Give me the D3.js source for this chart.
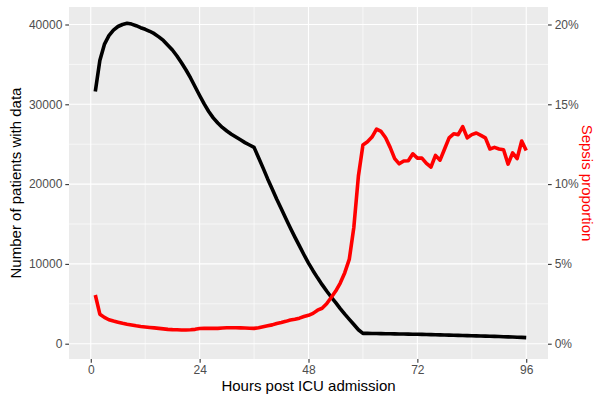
<!DOCTYPE html>
<html>
<head>
<meta charset="utf-8">
<script src="https://cdn.jsdelivr.net/npm/d3@7"></script>
<style>
  html, body { margin: 0; padding: 0; background: #fff; }
  svg { display: block; }
  text { font-family: "Liberation Sans", Arial, Helvetica, sans-serif; }
</style>
</head>
<body>
<svg id="chart" width="596" height="395"></svg>
<script>
// ---- data ----
const hours = d3.range(1, 97);
const patients = [
  31600, 35500, 37500, 38600, 39300, 39750, 40000, 40150, 40050, 39850,
  39600, 39400, 39150, 38850, 38450, 38000, 37400, 36800, 36050, 35200,
  34300, 33300, 32200, 31100, 30050, 29100, 28300, 27650, 27100, 26650,
  26250, 25900, 25550, 25200, 24900, 24600, 23300, 22000, 20650, 19400,
  18100, 16900, 15700, 14500, 13350, 12250, 11150, 10100, 9150, 8250,
  7400, 6600, 5850, 5150, 4400, 3700, 3050, 2400, 1750, 1300,
  1290, 1280, 1270, 1260, 1250, 1240, 1230, 1220, 1210, 1200,
  1190, 1180, 1165, 1150, 1135, 1120, 1105, 1090, 1075, 1060,
  1045, 1030, 1015, 1000, 985, 970, 955, 940, 920, 900,
  880, 860, 840, 815, 790, 760
];
const sepsisPct = [
  3.05, 1.85, 1.65, 1.50, 1.42, 1.35, 1.28, 1.22, 1.17, 1.12,
  1.08, 1.05, 1.02, 0.99, 0.96, 0.93, 0.90, 0.88, 0.87, 0.86,
  0.86, 0.87, 0.90, 0.95, 0.96, 0.96, 0.97, 0.96, 0.98, 1.00,
  1.00, 1.00, 0.99, 0.98, 0.97, 0.96, 1.00, 1.06, 1.12, 1.18,
  1.27, 1.33, 1.40, 1.48, 1.53, 1.60, 1.70, 1.78, 1.90, 2.10,
  2.22, 2.50, 2.90, 3.30, 3.80, 4.45, 5.30, 7.30, 10.50, 12.45,
  12.65, 12.95, 13.45, 13.30, 12.90, 12.30, 11.60, 11.27, 11.45, 11.46,
  11.90, 11.63, 11.63, 11.30, 11.07, 11.80, 11.50, 12.20, 12.90, 13.15,
  13.10, 13.60, 12.90, 13.10, 13.20, 13.05, 12.90, 12.20, 12.30, 12.20,
  12.15, 11.25, 11.95, 11.60, 12.70, 12.10
];
const xTicks = [0, 24, 48, 72, 96];
const xMinor = [12, 36, 60, 84];
const yTicks = [0, 10000, 20000, 30000, 40000];
const yMinor = [5000, 15000, 25000, 35000];
const rightTicks = [0, 0.05, 0.10, 0.15, 0.20];
const scaleFactor = 200000; // 20% <-> 40000

// ---- layout ----
const svg = d3.select("#chart");
const L = 69, T = 7, R = 548, B = 359;

const x = d3.scaleLinear().domain([-4.8, 100.8]).range([L, R]);
const y = d3.scaleLinear().domain([-1917, 42193]).range([B, T]);
const yR = d3.scaleLinear().domain([-1917 / scaleFactor, 42193 / scaleFactor]).range([B, T]);

// panel
svg.append("rect").attr("x", L).attr("y", T).attr("width", R - L).attr("height", B - T).attr("fill", "#EBEBEB");

const grid = svg.append("g");
yMinor.forEach(v => grid.append("line").attr("x1", L).attr("x2", R).attr("y1", y(v)).attr("y2", y(v))
  .attr("stroke", "#fff").attr("stroke-width", 0.6));
xMinor.forEach(v => grid.append("line").attr("y1", T).attr("y2", B).attr("x1", x(v)).attr("x2", x(v))
  .attr("stroke", "#fff").attr("stroke-width", 0.6));
yTicks.forEach(v => grid.append("line").attr("x1", L).attr("x2", R).attr("y1", y(v)).attr("y2", y(v))
  .attr("stroke", "#fff").attr("stroke-width", 1.1));
xTicks.forEach(v => grid.append("line").attr("y1", T).attr("y2", B).attr("x1", x(v)).attr("x2", x(v))
  .attr("stroke", "#fff").attr("stroke-width", 1.1));

// lines
const blackData = hours.map((h, i) => [h, patients[i]]);
const redData = hours.map((h, i) => [h, sepsisPct[i] / 100]);

svg.append("path").datum(blackData)
  .attr("fill", "none").attr("stroke", "#000").attr("stroke-width", 3.6)
  .attr("stroke-linejoin", "round")
  .attr("d", d3.line().x(d => x(d[0])).y(d => y(d[1])));

svg.append("path").datum(redData)
  .attr("fill", "none").attr("stroke", "#FF0000").attr("stroke-width", 3.6)
  .attr("stroke-linejoin", "round")
  .attr("d", d3.line().x(d => x(d[0])).y(d => yR(d[1])));

// axes
function styleAxis(g) {
  g.select(".domain").remove();
  g.selectAll(".tick line").attr("stroke", "#333").attr("stroke-width", 1.1);
  g.selectAll(".tick text").attr("fill", "#4D4D4D").style("font-size", "12px")
    .style("font-family", "'Liberation Sans', Arial, sans-serif");
}

svg.append("g").attr("transform", `translate(${L},0)`)
  .call(d3.axisLeft(y).tickValues(yTicks).tickSize(3.7).tickPadding(3).tickFormat(d3.format("d")))
  .call(styleAxis);

svg.append("g").attr("transform", `translate(0,${B})`)
  .call(d3.axisBottom(x).tickValues(xTicks).tickSize(3.7).tickPadding(2.9).tickFormat(d3.format("d")))
  .call(styleAxis);

svg.append("g").attr("transform", `translate(${R},0)`)
  .call(d3.axisRight(yR).tickValues(rightTicks).tickSize(3.7).tickPadding(3).tickFormat(d3.format(".0%")))
  .call(styleAxis);

// titles
svg.append("text").attr("x", (L + R) / 2).attr("y", 390.8).attr("text-anchor", "middle")
  .style("font-size", "15px").attr("fill", "#000").text("Hours post ICU admission");

svg.append("text").attr("transform", `translate(20.5,${(T + B) / 2}) rotate(-90)`)
  .attr("text-anchor", "middle").style("font-size", "15px").attr("fill", "#000")
  .text("Number of patients with data");

svg.append("text").attr("transform", `translate(581.5,${(T + B) / 2}) rotate(90)`)
  .attr("text-anchor", "middle").style("font-size", "15px").attr("fill", "#FF0000")
  .text("Sepsis proportion");
</script>
</body>
</html>
